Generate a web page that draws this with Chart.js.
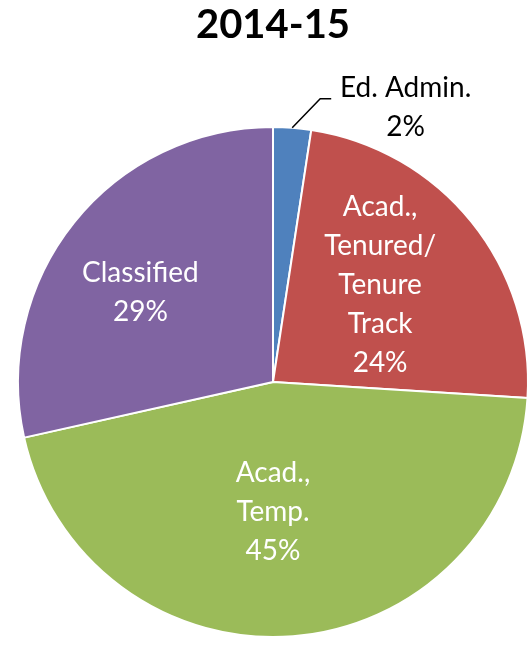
<!DOCTYPE html>
<html>
<head>
<meta charset="utf-8">
<script src="https://cdn.jsdelivr.net/npm/chart.js@4/dist/chart.umd.min.js"></script>
<style>
html,body{margin:0;padding:0;background:#fff;overflow:hidden;width:527px;height:645px;}
#wrap{position:absolute;left:0;top:0;width:545px;height:645px;}
</style>
</head>
<body>
<div id="wrap"><canvas id="c" width="545" height="645"></canvas></div>
<script>
const title = "2014-15";
const categories = ["Ed. Admin.", "Acad., Tenured/ Tenure Track", "Acad., Temp.", "Classified"];
const values = [2.4, 23.6, 45.5, 28.5];
const labelLines = [
  ["Ed. Admin.", "2%"],
  ["Acad.,", "Tenured/", "Tenure", "Track", "24%"],
  ["Acad.,", "Temp.", "45%"],
  ["Classified", "29%"]
];
const colors = ["#4F81BD", "#C0504D", "#9BBB59", "#8064A2"];

// label placement relative to pie centre, in units of radius
const labelPlace = [
  {fx: 0.52, fy: -1.075, color: "#000", leader: true},
  {fx: 0.42, fy: -0.38, color: "#fff"},
  {fx: 0.0, fy: 0.51, color: "#fff"},
  {fx: -0.52, fy: -0.35, color: "#fff"}
];

const labelPlugin = {
  id: 'labels',
  afterDraw(chart) {
    const ctx = chart.ctx;
    const meta = chart.getDatasetMeta(0);
    ctx.save();
    // title
    ctx.fillStyle = "#000";
    ctx.font = "bold 40px Lato";
    ctx.textAlign = "center";
    ctx.textBaseline = "middle";
    ctx.fillText(title, 273, 25);

    ctx.font = "28px Lato";
    const lh = 39;
    meta.data.forEach((arc, i) => {
      const p = labelPlace[i];
      const cx = arc.x, cy = arc.y, R = arc.outerRadius;
      const x = cx + p.fx * R;
      const y = cy + p.fy * R;
      const lines = labelLines[i];
      const y0 = y - (lines.length - 1) * lh / 2;
      ctx.fillStyle = p.color;
      lines.forEach((t, k) => ctx.fillText(t, x, y0 + k * lh));
      if (p.leader) {
        const mid = (arc.startAngle + arc.endAngle) / 2;
        const sx = cx + Math.cos(mid) * R;
        const sy = cy + Math.sin(mid) * R;
        ctx.strokeStyle = "#000";
        ctx.lineWidth = 1.5;
        ctx.beginPath();
        ctx.moveTo(sx, sy);
        ctx.lineTo(sx + 28, sy - 29);
        ctx.lineTo(sx + 39, sy - 29);
        ctx.stroke();
      }
    });
    ctx.restore();
  }
};

new Chart(document.getElementById('c'), {
  type: 'pie',
  data: {
    labels: categories,
    datasets: [{
      data: values,
      backgroundColor: colors,
      borderColor: "#fff",
      borderWidth: 2
    }]
  },
  options: {
    responsive: false,
    animation: false,
    layout: {padding: {left: 17, right: 16, top: 126, bottom: 7}},
    plugins: {legend: {display: false}, tooltip: {enabled: false}, title: {display: false}}
  },
  plugins: [labelPlugin]
});
</script>
</body>
</html>
